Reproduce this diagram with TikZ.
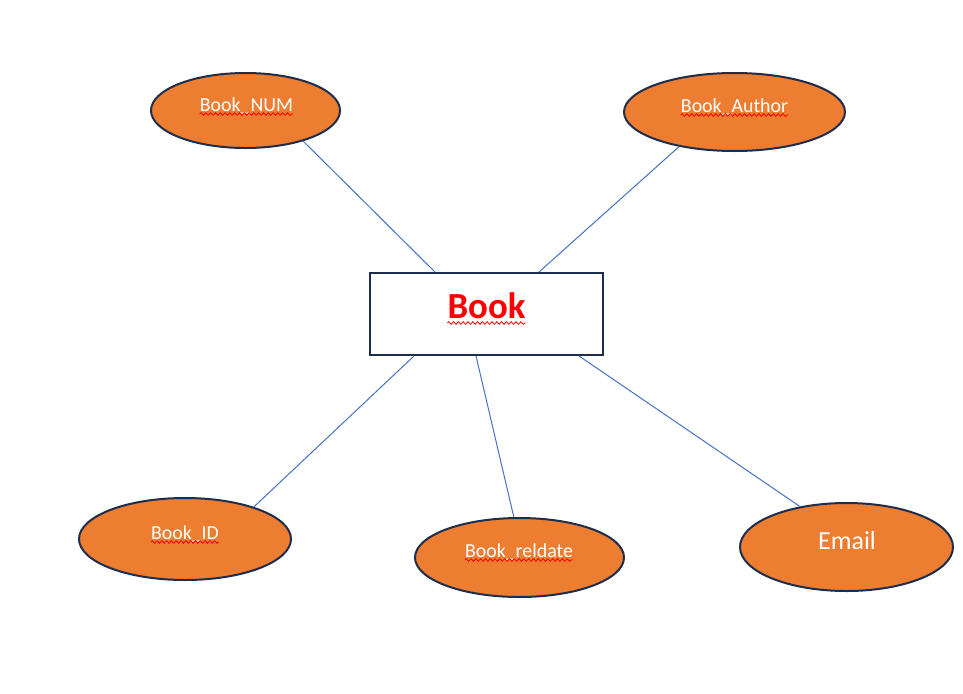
\documentclass[tikz,border=0pt]{standalone}
\usepackage{fontspec}
\setmainfont{Carlito}
\usetikzlibrary{shapes.geometric,calc,decorations.pathmorphing}
\definecolor{attrfill}{HTML}{ED7D31}
\definecolor{outline}{HTML}{1F2D4D}
\definecolor{linkblue}{HTML}{4472C4}
\definecolor{spell}{HTML}{FF0000}

\begin{document}
\begin{tikzpicture}[x=0.75pt,y=-0.75pt,
  attr/.style={ellipse,draw=outline,fill=attrfill,line width=1.5pt,inner sep=0pt},
  entity/.style={rectangle,draw=outline,fill=white,line width=1.5pt,inner sep=0pt,
    minimum width=174.75pt,minimum height=61.5pt},
  attrtext/.style={anchor=base,inner sep=0pt,text=white,font=\fontsize{14.9}{18}\selectfont},
  link/.style={draw=linkblue,line width=0.75pt},
  squiggle/.style={draw=spell,line width=0.6pt,decorate,
    decoration={snake,amplitude=1pt,segment length=3.6pt}}
]
\useasboundingbox (0,0) rectangle (963,693);

% entity
\node[entity] (book) at (486.5,314) {};
\node[anchor=base,inner sep=0pt,text=spell,font=\fontsize{27.6}{32}\selectfont\bfseries] (booktext) at (486.5,318) {Book};

% attributes
\node[attr,minimum width=141.75pt,minimum height=56.25pt] (num) at (245.5,110.5) {};
\node[attr,minimum width=165.75pt,minimum height=58.5pt] (author) at (734.5,112) {};
\node[attr,minimum width=159pt,minimum height=61.5pt] (id) at (185,539) {};
\node[attr,minimum width=156.75pt,minimum height=59.25pt] (reldate) at (519.5,557.5) {};
\node[attr,minimum width=159.75pt,minimum height=66pt] (email) at (846.5,547) {};

\node[attrtext] (numtext) at (246.5,111) {Book\_NUM};
\node[attrtext] (authortext) at (734.5,112) {Book\_Author};
\node[attrtext] (idtext) at (185,539) {Book\_ID};
\node[attrtext] (reldatetext) at (519,557) {Book\_reldate};
\node[attrtext,font=\fontsize{19.5}{23}\selectfont] (emailtext) at (847,549) {Email};

% spelling marks under the labels
\draw[squiggle] ($(numtext.base west)+(0,3)$) -- ($(numtext.base east)+(0,3)$);
\draw[squiggle] ($(authortext.base west)+(0,3)$) -- ($(authortext.base east)+(0,3)$);
\draw[squiggle] ($(idtext.base west)+(0,3)$) -- ($(idtext.base east)+(0,3)$);
\draw[squiggle] ($(reldatetext.base west)+(0,3)$) -- ($(reldatetext.base east)+(0,3)$);
\draw[squiggle] ($(booktext.base west)+(0,5)$) -- ($(booktext.base east)+(0,5)$);

% connectors
\draw[link] ($(book.north west)+(66,0)$) -- (num.-28);
\draw[link] ($(book.north west)+(170,0)$) -- (author.212);
\draw[link] ($(book.south west)+(45,0)$) -- (id.25);
\draw[link] ($(book.south west)+(107,0)$) -- (reldate.98);
\draw[link] ($(book.south west)+(210,0)$) -- (email.139);
\end{tikzpicture}
\end{document}
